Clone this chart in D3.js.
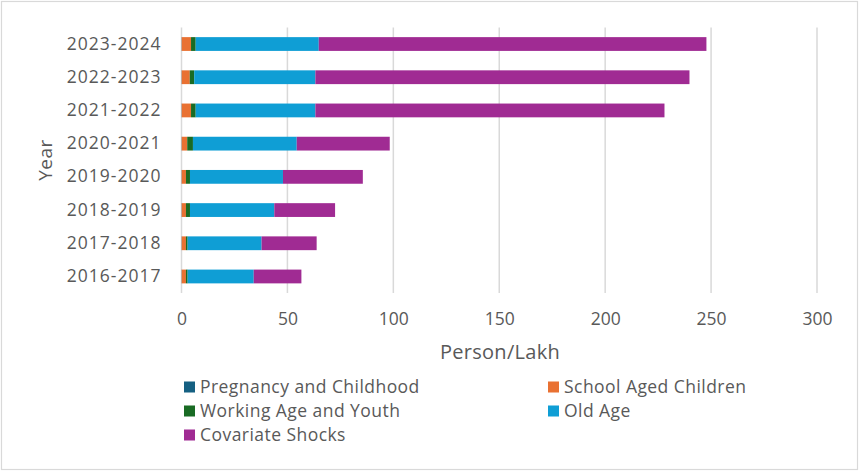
<!DOCTYPE html>
<html>
<head>
<meta charset="utf-8">
<script src="https://cdn.jsdelivr.net/npm/d3@7"></script>
<style>
  html, body { margin: 0; padding: 0; background: #fff; }
  svg { display: block; }
  text { font-family: "Open Sans", "Liberation Sans", sans-serif; fill: #595959; }
</style>
</head>
<body>
<svg id="chart" width="859" height="472"></svg>
<script>
// Beneficiaries by programme area, in lakh persons
const years = ["2016-2017", "2017-2018", "2018-2019", "2019-2020", "2020-2021", "2021-2022", "2022-2023", "2023-2024"];
const pregnancyChildhood = [0.1, 0.1, 0.1, 0.1, 0.1, 0.1, 0.1, 0.1];
const schoolAgedChildren = [2.0, 2.0, 2.0, 2.0, 2.6, 4.4, 3.8, 4.4];
const workingAgeYouth    = [0.8, 0.8, 1.9, 1.9, 2.7, 2.2, 2.1, 2.2];
const oldAge             = [31.2, 34.9, 39.8, 43.9, 49.0, 56.5, 57.2, 58.1];
const covariateShocks    = [22.5, 26.0, 28.7, 37.7, 43.9, 164.8, 176.6, 183.0];
const seriesNames = ["Pregnancy and Childhood", "School Aged Children", "Working Age and Youth", "Old Age", "Covariate Shocks"];
const seriesColors = ["#156082", "#E97132", "#196B24", "#0F9ED5", "#A02B93"];
const xTicks = [0, 50, 100, 150, 200, 250, 300];

const seriesValues = [pregnancyChildhood, schoolAgedChildren, workingAgeYouth, oldAge, covariateShocks];
const rows = years.map((y, i) => {
  const r = { year: y };
  seriesNames.forEach((n, k) => { r[n] = seriesValues[k][i]; });
  return r;
});

const svg = d3.select("#chart");
const W = 859, H = 472;

// outer frame
svg.append("rect")
  .attr("x", 1.5).attr("y", 1.5).attr("width", W - 3).attr("height", H - 4)
  .attr("fill", "#fff").attr("stroke", "#D9D9D9").attr("stroke-width", 1.2);

const plot = { left: 181.5, right: 817, top: 27.5, bottom: 293 };

const x = d3.scaleLinear().domain([0, 300]).range([plot.left, plot.right]);
const y = d3.scaleBand().domain(years.slice().reverse()).range([plot.top, plot.bottom]).paddingInner(0.585).paddingOuter(0.29);

// vertical gridlines
svg.append("g").selectAll("line").data(xTicks).join("line")
  .attr("x1", d => x(d)).attr("x2", d => x(d))
  .attr("y1", plot.top).attr("y2", plot.bottom)
  .attr("stroke", "#D9D9D9").attr("stroke-width", 1.5);

// stacked bars
const stack = d3.stack().keys(seriesNames)(rows);
svg.append("g").selectAll("g").data(stack).join("g")
  .attr("fill", (d, i) => seriesColors[i])
  .selectAll("rect").data(d => d).join("rect")
    .attr("x", d => x(d[0]))
    .attr("width", d => Math.max(0, x(d[1]) - x(d[0])))
    .attr("y", d => y(d.data.year))
    .attr("height", y.bandwidth());

// x axis labels
const xAxis = d3.axisBottom(x).tickValues(xTicks).tickSize(0).tickPadding(0).tickFormat(d3.format("d"));
const gx = svg.append("g").attr("transform", `translate(0,${plot.bottom + 31.5})`).call(xAxis);
gx.select(".domain").remove();
gx.selectAll("text").attr("font-size", 17.5).attr("fill", "#595959")
  .style("font-family", "'Open Sans', sans-serif").attr("dy", "0");

// y axis labels
const yAxis = d3.axisLeft(y).tickSize(0).tickPadding(0);
const gy = svg.append("g").attr("transform", `translate(${plot.left - 20},0)`).call(yAxis);
gy.select(".domain").remove();
gy.selectAll("text").attr("font-size", 17.5).attr("fill", "#595959")
  .attr("letter-spacing", 1)
  .style("font-family", "'Open Sans', sans-serif");

// axis titles
svg.append("text").attr("x", 500).attr("y", 359)
  .attr("text-anchor", "middle").attr("font-size", 20).attr("letter-spacing", 0.3).text("Person/Lakh");
svg.append("text").attr("transform", "translate(52,160) rotate(-90)")
  .attr("text-anchor", "middle").attr("font-size", 19).attr("letter-spacing", 0.5).text("Year");

// legend
const legendPos = [
  { x: 184, y: 387 }, { x: 548, y: 387 },
  { x: 184, y: 411 }, { x: 548, y: 411 },
  { x: 184, y: 435 }
];
const lg = svg.append("g").selectAll("g").data(seriesNames).join("g")
  .attr("transform", (d, i) => `translate(${legendPos[i].x},${legendPos[i].y})`);
lg.append("rect").attr("x", 0).attr("y", -5.5).attr("width", 11).attr("height", 11)
  .attr("fill", (d, i) => seriesColors[i]);
lg.append("text").attr("x", 16).attr("y", 0).attr("dy", "0.35em")
  .attr("font-size", 17.5).attr("letter-spacing", 0.45).text(d => d);
</script>
</body>
</html>
